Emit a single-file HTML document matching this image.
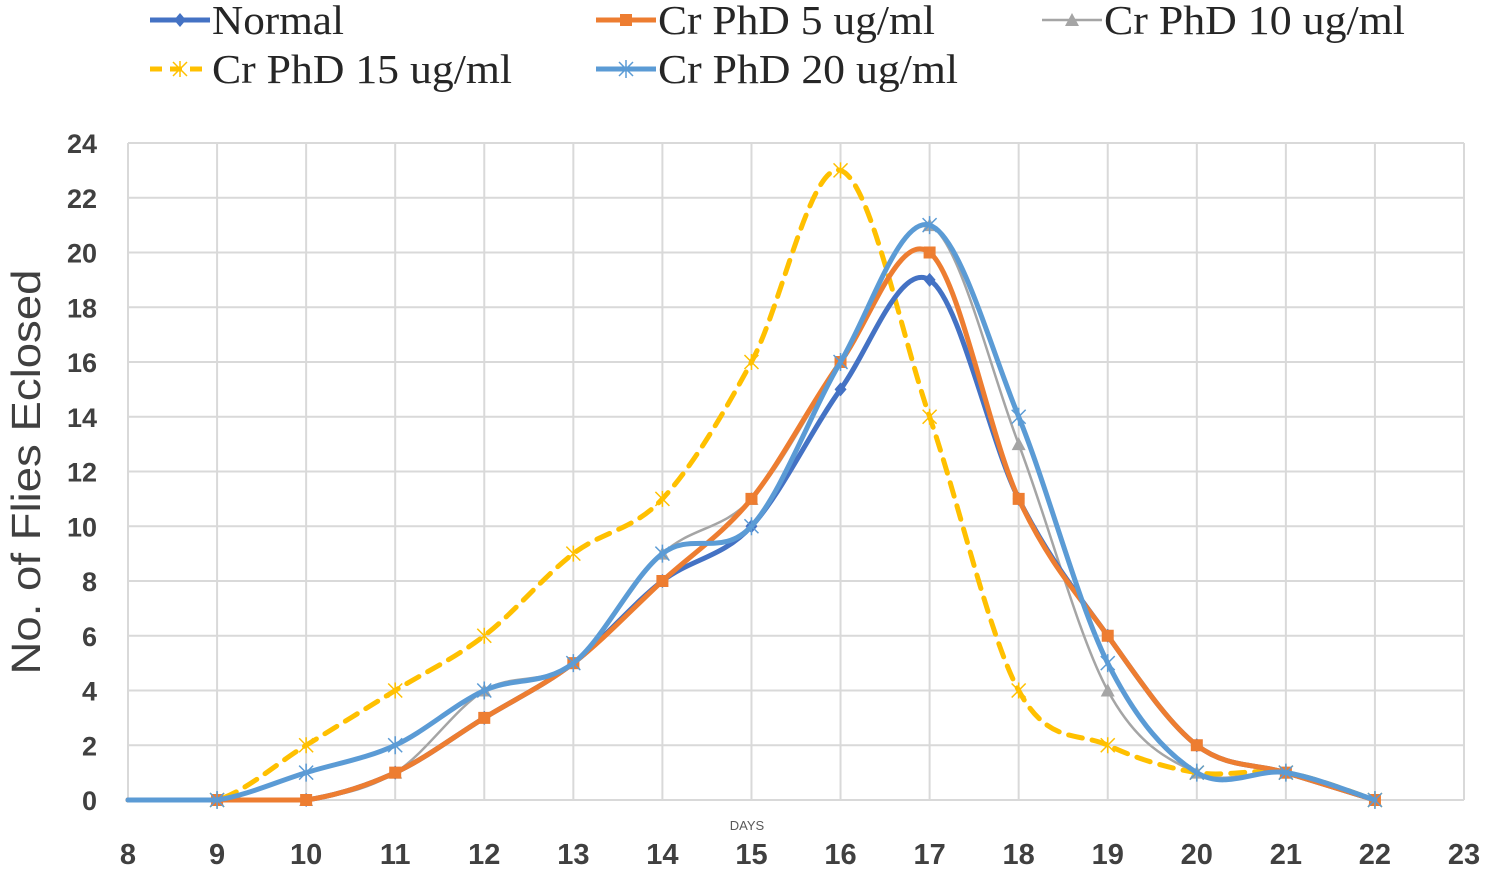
<!DOCTYPE html>
<html><head><meta charset="utf-8"><style>
body{margin:0;background:#fff;width:1486px;height:870px;overflow:hidden}
svg text{font-family:"Liberation Sans",sans-serif}
</style></head><body>
<svg width="1486" height="870">
<g id="grid"></g>
<g id="axes"></g>
<g id="series"></g>
<text x="747" y="830" font-size="13" fill="#595959" text-anchor="middle">DAYS</text>
<text transform="translate(40,472) rotate(-90)" font-size="41" fill="#404040" text-anchor="middle" textLength="405" lengthAdjust="spacingAndGlyphs">No. of Flies Eclosed</text>
<g id="legend"></g>
</svg>
<script>
const days=[8,9,10,11,12,13,14,15,16,17,18,19,20,21,22];
const normal=[0,0,0,1,3,5,8,10,15,19,11,6,2,1,0];
const cr5=[0,0,0,1,3,5,8,11,16,20,11,6,2,1,0];
const cr10=[0,0,0,1,4,5,9,11,16,21,13,4,1,1,0];
const cr15=[0,0,2,4,6,9,11,16,23,14,4,2,1,1,0];
const cr20=[0,0,1,2,4,5,9,10,16,21,14,5,1,1,0];
const xTicks=[8,9,10,11,12,13,14,15,16,17,18,19,20,21,22,23];
const yTicks=[0,2,4,6,8,10,12,14,16,18,20,22,24];
const seriesNames=["Normal","Cr PhD 5 ug/ml","Cr PhD 10 ug/ml","Cr PhD 15 ug/ml","Cr PhD 20 ug/ml"];
const NS="http://www.w3.org/2000/svg";
const X=v=>128+(v-8)*(1464-128)/15;
const Y=v=>800-v*(800-143)/24;
function mk(tag,attrs,parent){const e=document.createElementNS(NS,tag);for(const k in attrs)e.setAttribute(k,attrs[k]);parent.appendChild(e);return e;}
const grid=document.getElementById('grid'),axes=document.getElementById('axes'),sg=document.getElementById('series'),lg=document.getElementById('legend');
xTicks.forEach(t=>{
 const l=mk('line',{x1:X(t),x2:X(t),y1:143,y2:800,stroke:'#d9d9d9','stroke-width':2},grid);
 
 
 const tx=mk('text',{x:X(t),y:864,'font-size':29,'font-weight':'bold',fill:'#404040','text-anchor':'middle'},axes);
 tx.textContent=t;
 
 
});
yTicks.forEach(t=>{
 const l=mk('line',{x1:128,x2:1464,y1:Y(t),y2:Y(t),stroke:'#d9d9d9','stroke-width':2},grid);
 
 
 const tx=mk('text',{x:97,y:Y(t)+10,'font-size':27,'font-weight':'bold',fill:'#404040','text-anchor':'end'},axes);
 tx.textContent=t;
 
 
});
function smooth(vals){
 const p=vals.map((v,i)=>[X(days[i]),Y(v)]);
 let d=`M${p[0][0]},${p[0][1]}`;
 for(let i=0;i<p.length-1;i++){
  const p0=p[Math.max(i-1,0)],p1=p[i],p2=p[i+1],p3=p[Math.min(i+2,p.length-1)];
  let c1=[p1[0]+(p2[0]-p0[0])/6,p1[1]+(p2[1]-p0[1])/6];
  let c2=[p2[0]-(p3[0]-p1[0])/6,p2[1]-(p3[1]-p1[1])/6];
  c1[1]=Math.min(c1[1],Y(0));c2[1]=Math.min(c2[1],Y(0));
  d+=` C${c1[0]},${c1[1]} ${c2[0]},${c2[1]} ${p2[0]},${p2[1]}`;
 }
 return d;
}
function marker(type,x,y,c,parent){
 let e;
 if(type==='diamond')e=mk('path',{d:`M${x},${y-7}L${x+6},${y}L${x},${y+7}L${x-6},${y}Z`,fill:c},parent);
 else if(type==='square')e=mk('rect',{x:x-6,y:y-6,width:12,height:12,fill:c},parent);
 else if(type==='triangle')e=mk('path',{d:`M${x},${y-7}L${x+7},${y+6}L${x-7},${y+6}Z`,fill:c},parent);
 else if(type==='x')e=mk('path',{d:`M${x-7},${y-7}L${x+7},${y+7}M${x+7},${y-7}L${x-7},${y+7}M${x},${y-8}L${x},${y+8}`,stroke:c,'stroke-width':1.5,fill:'none'},parent);
 else e=mk('path',{d:`M${x-7},${y-7}L${x+7},${y+7}M${x+7},${y-7}L${x-7},${y+7}M${x},${y-9}L${x},${y+9}`,stroke:c,'stroke-width':1.5,fill:'none'},parent);
 
 
}
const defs=[
 {v:cr10,c:'#a5a5a5',w:2.5,m:'triangle',dash:null,key:'series-cr-10'},
 {v:cr15,c:'#ffc000',w:5,m:'x',dash:'14 10',key:'series-cr-15'},
 {v:normal,c:'#4472c4',w:5,m:'diamond',dash:null,key:'series-normal'},
 {v:cr5,c:'#ed7d31',w:5,m:'square',dash:null,key:'series-cr-5'},
 {v:cr20,c:'#5b9bd5',w:5,m:'star',dash:null,key:'series-cr-20'}
];
defs.forEach(s=>{
 const g=mk('g',{},sg);
 
 
 const a={d:smooth(s.v),stroke:s.c,'stroke-width':s.w,fill:'none','stroke-linecap':'round'};
 if(s.dash)a['stroke-dasharray']=s.dash;
 const p=mk('path',a,g);
 
 
 s.v.forEach((v,i)=>{if(i>0)marker(s.m,X(days[i]),Y(v),s.c,g);});
});
const leg=[
 {n:0,x:150,y:20,c:'#4472c4',m:'diamond',dash:null,tl:132},
 {n:1,x:596,y:20,c:'#ed7d31',m:'square',dash:null,tl:277},
 {n:2,x:1042,y:20,c:'#a5a5a5',m:'triangle',dash:null,tl:301},
 {n:3,x:150,y:69,c:'#ffc000',m:'x',dash:'12 8',tl:300},
 {n:4,x:596,y:69,c:'#5b9bd5',m:'star',dash:null,tl:300}
];
leg.forEach(l=>{
 const g=mk('g',{},lg);
 
 
 const a={x1:l.x,x2:l.x+60,y1:l.y,y2:l.y,stroke:l.c,'stroke-width':l.n===2?2.5:5};
 if(l.dash)a['stroke-dasharray']=l.dash;
 mk('line',a,g);
 marker(l.m,l.x+30,l.y,l.c,g);
 const t=mk('text',{x:l.x+62,y:l.y+14,'font-size':41,fill:'#262626',textLength:l.tl,lengthAdjust:'spacingAndGlyphs','style':'font-family:"Liberation Serif",serif'},g);
 t.textContent=seriesNames[l.n];
 
 
});
</script>
</body></html>
